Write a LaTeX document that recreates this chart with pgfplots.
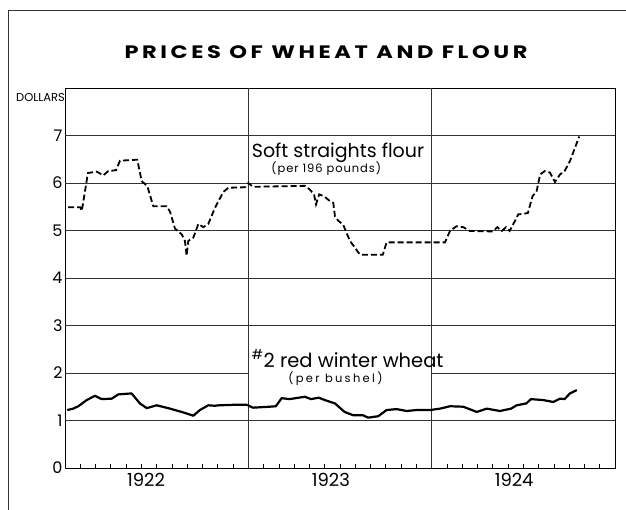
\documentclass[border=0pt]{standalone}
\usepackage{fontspec}
\setmainfont{Poppins}
\usepackage{pgfplots}
\pgfplotsset{compat=1.18}

\begin{document}
\begin{tikzpicture}
% page = 626x510 reference, axis box at px (65,88)-(615,468)
\path[use as bounding box] (-65pt,-42pt) rectangle (561pt,468pt);
\draw[line width=0.6pt,black!80] (-57pt,-42pt) -- (-57pt,458pt) -- (561pt,458pt);
\node at (261pt,416pt) {\scalebox{1.25}[1]{\fontsize{18}{18}\selectfont\bfseries\addfontfeatures{LetterSpace=16}PRICES OF WHEAT AND FLOUR}};
\begin{axis}[
  at={(0pt,0pt)}, anchor=origin,
  scale only axis,
  width=550pt, height=380pt,
  xmin=0, xmax=36, ymin=0, ymax=8,
  axis line style={line width=0.8pt},
  ytick={0,1,2,3,4,5,6,7},
  major tick length=0pt,
  xtick={5.3,17.4,29.4},
  xticklabels={1922,1923,1924},
  minor xtick={1,...,11,13,14,...,23,25,26,...,35},
  minor tick length=4pt,
  tick align=inside,
  tick style={line width=0.7pt,black},
  xtick pos=bottom, ytick pos=left,
  xticklabel style={font=\fontsize{18}{18}\selectfont, yshift=-2pt},
  yticklabel style={font=\fontsize{16}{16}\selectfont, xshift=1pt},
  /pgf/number format/assume math mode=true,
  clip=false,
]
% grid lines (the 2-dollar line is broken behind the wheat label)
\foreach \v in {1,3,4,5,6,7} {
  \edef\tmp{\noexpand\draw[line width=0.6pt,black!80] (axis cs:0,\v) -- (axis cs:36,\v);}\tmp
}
\draw[line width=0.6pt,black!80] (axis cs:0,2) -- (axis cs:12,2);
\draw[line width=0.6pt,black!80] (axis cs:24,2) -- (axis cs:36,2);
\draw[line width=0.6pt,black!80] (axis cs:12,0) -- (axis cs:12,8);
\draw[line width=0.6pt,black!80] (axis cs:24,0) -- (axis cs:24,8);

% soft straights flour, per 196 lb
\addplot[black, line width=1.8pt, dash pattern=on 6pt off 3pt, mark=none] coordinates {
(0.2,5.49) (1.0,5.49) (1.1,5.41) (1.5,6.21) (2.07,6.24) (2.5,6.16) (2.83,6.25) (3.34,6.27)
(3.6,6.47) (4.73,6.49) (5.02,6.04) (5.39,5.93) (5.78,5.51) (6.65,5.51) (6.87,5.4) (7.2,5.04)
(7.64,4.92) (7.85,4.78) (7.96,4.47) (8.07,4.78) (8.4,4.85) (8.73,5.14) (9.05,5.07) (9.38,5.14)
(9.82,5.48) (10.36,5.81) (10.69,5.9) (11.78,5.91) (12.0,6.0) (12.3,5.92) (15.7,5.94) (16.03,5.86)
(16.3,5.76) (16.43,5.55) (16.64,5.76) (16.95,5.72) (17.3,5.63) (17.56,5.58) (17.67,5.3) (17.9,5.2)
(18.2,5.13) (18.43,4.95) (18.65,4.78) (18.98,4.64) (19.3,4.49) (20.8,4.49) (21.05,4.75) (24.87,4.75)
(25.2,4.99) (25.63,5.09) (26.07,5.07) (26.5,4.99) (28.0,4.98) (28.3,5.07) (28.6,4.99) (28.86,5.07)
(29.1,4.99) (29.45,5.2) (29.67,5.34) (30.0,5.35) (30.3,5.37) (30.6,5.72) (30.87,5.83) (31.1,6.18)
(31.4,6.25) (31.74,6.22) (32.07,6.02) (32.4,6.18) (32.7,6.25) (33.05,6.46) (33.38,6.74) (33.66,6.98)
};

% #2 red winter wheat, per bushel
\addplot[black, line width=2.2pt, mark=none, line join=round] coordinates {
(0.15,1.22) (0.54,1.25) (0.87,1.3) (1.42,1.43) (1.96,1.52) (2.4,1.45) (3.06,1.46) (3.49,1.55)
(4.36,1.57) (4.9,1.36) (5.35,1.26) (6.0,1.32) (6.87,1.25) (7.74,1.17) (8.4,1.1) (8.83,1.22)
(9.38,1.32) (9.8,1.31) (10.1,1.32) (11.0,1.33) (11.9,1.33) (12.3,1.27) (13.4,1.29) (13.8,1.3)
(14.18,1.47) (14.7,1.45) (15.1,1.47) (15.7,1.5) (16.1,1.45) (16.6,1.48) (17.1,1.42) (17.67,1.36)
(18.3,1.18) (18.87,1.11) (19.5,1.11) (19.85,1.06) (20.5,1.09) (21.05,1.22) (21.7,1.24) (22.36,1.2)
(23.0,1.22) (23.9,1.22) (24.55,1.25) (25.2,1.3) (26.07,1.29) (26.95,1.18) (27.6,1.25) (28.47,1.2)
(29.2,1.25) (29.56,1.32) (30.2,1.36) (30.5,1.45) (31.3,1.43) (31.96,1.39) (32.4,1.46) (32.7,1.45)
(33.05,1.57) (33.5,1.64)
};

\node[font=\fontsize{19}{19}\selectfont] at (axis cs:17.87,6.63) {Soft straights flour};
\node[font=\fontsize{11.5}{11.5}\selectfont\addfontfeatures{LetterSpace=8}] at (axis cs:17.1,6.3) {(per 196 pounds)};
\node[font=\fontsize{19.5}{19.5}\selectfont, inner sep=1pt] at (axis cs:18.5,2.3) {\textsuperscript{\#}2 red winter wheat};
\node[font=\fontsize{11.5}{11.5}\selectfont\addfontfeatures{LetterSpace=20}, inner sep=1pt] at (axis cs:17.7,1.88) {(per bushel)};
\node[font=\fontsize{11.5}{11.5}\selectfont, anchor=north east, inner sep=0pt] at (axis cs:0,7.9) {DOLLARS};
\end{axis}
\end{tikzpicture}
\end{document}
